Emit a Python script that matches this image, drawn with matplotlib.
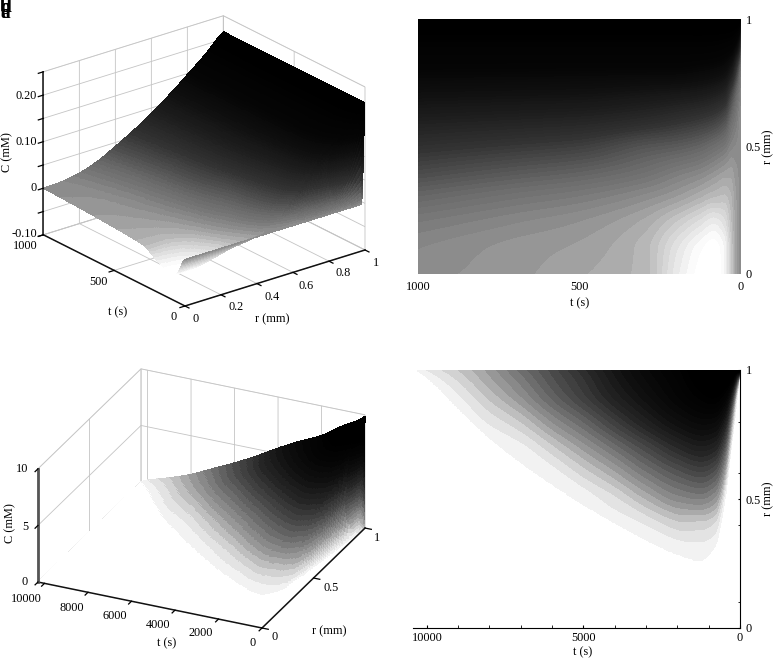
import numpy as np
import matplotlib
matplotlib.use("Agg")
import matplotlib.pyplot as plt
from matplotlib.colors import ListedColormap, BoundaryNorm
from mpl_toolkits.mplot3d import proj3d

plt.rcParams['font.family'] = ['Liberation Serif', 'DejaVu Serif']
plt.rcParams['font.size'] = 8.8
plt.rcParams['grid.color'] = '#c4c4c4'
plt.rcParams['grid.linewidth'] = 0.6

r_rows = [0, .1, .2, .3, .4, .5, .6, .7, .8, .9, .98, 1]

t_short = [0, 5, 15, 30, 50, 85, 130, 200, 300, 500, 700, 1000]
c_short = [
    [0, 0, 0, 0, 0, 0, 0, 0, 0, 0, 0, .215],
    [-.002, -.002, -.002, -.002, -.001, 0, .001, .006, .02, .09, .19, .216],
    [-.008, -.008, -.007, -.006, -.003, .001, .007, .018, .055, .14, .205, .216],
    [-.02, -.02, -.017, -.013, -.007, .003, .016, .042, .10, .165, .208, .216],
    [-.036, -.036, -.028, -.017, -.006, .010, .035, .075, .125, .172, .21, .216],
    [-.046, -.043, -.033, -.016, -.002, .017, .048, .088, .135, .178, .21, .216],
    [-.042, -.039, -.028, -.012, .003, .024, .055, .095, .14, .18, .21, .216],
    [-.032, -.029, -.02, -.006, .008, .03, .062, .1, .145, .18, .21, .216],
    [-.014, -.014, -.01, 0, .016, .035, .07, .105, .145, .18, .21, .216],
    [-.008, -.006, -.002, .008, .026, .05, .08, .112, .146, .18, .21, .216],
    [-.004, -.003, .002, .013, .032, .056, .084, .114, .147, .18, .21, .216],
    [0, .002, .0086, .022, .042, .064, .089, .117, .148, .18, .21, .216],
]

t_long = [0, 100, 250, 500, 800, 1300, 2000, 3000, 4000, 5000, 6000, 7000, 8000, 9000, 10000, 10300]
r_edge_long = [.995, .88, .73, .48, .316, .26, .284, .34, .406, .477, .555, .64, .735, .85, .97, .995]
c_long = [
    [0, 0, 0, 0, 0, 0, 0, 0, 0, 0, 0, 9.9],
    [0, 0, 0, 0, 0, 0, 0, 0, 0, .3, 6.0, 9.7],
    [0, 0, 0, 0, 0, 0, 0, 0, 1.2, 4.5, 8.6, 9.5],
    [0, 0, 0, 0, 0, .15, 1.5, 3.2, 5.2, 7.3, 8.9, 9.2],
    [0, 0, 0, 0, .5, 1.7, 3.1, 4.7, 6.3, 7.9, 8.7, 8.9],
    [0, 0, 0, .15, .75, 2.1, 3.5, 5.0, 6.4, 7.6, 8.2, 8.3],
    [0, 0, 0, .08, .75, 1.9, 3.1, 4.5, 5.9, 6.9, 7.3, 7.4],
    [0, 0, 0, 0, .3, 1.2, 2.3, 3.5, 4.9, 5.9, 6.4, 6.5],
    [0, 0, 0, 0, 0, .5, 1.4, 2.5, 3.8, 4.9, 5.4, 5.5],
    [0, 0, 0, 0, 0, .08, .7, 1.6, 2.7, 3.8, 4.25, 4.4],
    [0, 0, 0, 0, 0, 0, .15, .8, 1.8, 2.8, 3.3, 3.4],
    [0, 0, 0, 0, 0, 0, 0, .2, .9, 1.8, 2.35, 2.5],
    [0, 0, 0, 0, 0, 0, 0, 0, .35, 1.0, 1.5, 1.6],
    [0, 0, 0, 0, 0, 0, 0, 0, 0, .25, .75, .9],
    [0, 0, 0, 0, 0, 0, 0, 0, 0, 0, .1, .3],
    [0, 0, 0, 0, 0, 0, 0, 0, 0, 0, 0, .06],
]

W, H = 775, 660
fig = plt.figure(figsize=(W / 100, H / 100), dpi=100, facecolor='white')


def pchip(x, y, xq):
    """Monotone cubic drawing curve through the table nodes."""
    x, y = np.asarray(x, float), np.asarray(y, float)
    if len(x) == 2:
        return np.interp(xq, x, y)
    h = np.diff(x)
    s = np.diff(y) / h
    d = np.zeros_like(y)
    for i in range(1, len(x) - 1):
        if s[i - 1] * s[i] > 0:
            w1, w2 = 2 * h[i] + h[i - 1], h[i] + 2 * h[i - 1]
            d[i] = (w1 + w2) / (w1 / s[i - 1] + w2 / s[i])
    d[0], d[-1] = s[0], s[-1]
    i = np.clip(np.searchsorted(x, xq, side='right') - 1, 0, len(h) - 1)
    u = (xq - x[i]) / h[i]
    return (y[i] * (2 * u**3 - 3 * u**2 + 1) + d[i] * h[i] * (u**3 - 2 * u**2 + u)
            + y[i + 1] * (-2 * u**3 + 3 * u**2) + d[i + 1] * h[i] * (u**3 - u**2))


def fine_axes(tmax):
    u = np.linspace(0, 1, 230)
    tf = tmax * u**2
    rf = 1 - (1 - np.linspace(0, 1, 260))**1.6
    return tf, rf


def render_short(ts, rs, table):
    tf, rf = fine_axes(ts[-1])
    a = np.array([pchip(rs, row, rf) for row in np.array(table, float)])
    z = np.array([pchip(ts, a[:, j], tf) for j in range(a.shape[1])]).T
    return tf, rf, z


def render_long(ts, rs, edge, table):
    tf, rf = fine_axes(ts[-1])
    rs = np.array(rs)
    S = np.linspace(0, 1, 140)
    prof = []
    for e, row in zip(edge, np.array(table, float)):
        keep = rs > e
        prof.append(pchip(np.r_[e, rs[keep]], np.r_[.05, row[keep]], e + S * (1 - e)))
    prof = np.array(prof)
    zs = np.array([pchip(ts, prof[:, j], tf) for j in range(len(S))]).T
    ef = pchip(ts, edge, tf)
    z = np.array([np.interp(rf, e + S * (1 - e), col, left=0) for e, col in zip(ef, zs)])
    return tf, rf, z


def bands(levels, anchors_z, anchors_g):
    mids = 0.5 * (levels[:-1] + levels[1:])
    g = np.interp(mids, anchors_z, anchors_g)
    cmap = ListedColormap([(v, v, v) for v in g])
    return cmap, BoundaryNorm(levels, cmap.N)


def place(axes, origin_px, right_px, origin_xyz, right_xyz):
    ax = axes[0]
    side = 0.8
    ax.set_position([0.1, 0.1, side * H / W, side])
    for _ in range(3):
        ax.apply_aspect()
        M = ax.get_proj()
        def px(p):
            u, v, _w = proj3d.proj_transform(p[0], p[1], p[2], M)
            return ax.transData.transform((u, v))
        a, b = px(origin_xyz), px(right_xyz)
        scale = np.hypot(*(np.array(right_px) - np.array(origin_px))) / np.hypot(*(b - a))
        pos = ax.get_position()
        ax.set_position([pos.x0, pos.y0, pos.width * scale, pos.height * scale])
        ax.apply_aspect()
        a = px(origin_xyz)
        tx, ty = origin_px[0], H - origin_px[1]
        pos = ax.get_position()
        ax.set_position([pos.x0 + (tx - a[0]) / W, pos.y0 + (ty - a[1]) / H, pos.width, pos.height])
    axes[1].set_position(ax.get_position())


def panel3d(ts_max, zlim, ratio, elev, azim, origin_px, right_px, tf, rf, z, cmap, norm,
            rt, tt, zt, texts, z_lw, z_col):
    base = fig.add_axes([0.1, 0.1, 0.5, 0.5], projection='3d', proj_type='ortho')
    over = fig.add_axes([0.1, 0.1, 0.5, 0.5], projection='3d', proj_type='ortho')
    R, T = np.meshgrid(rf, tf)
    base.plot_surface(R, T, z, rcount=len(tf), ccount=len(rf), cmap=cmap, norm=norm,
                      linewidth=0, antialiased=False, shade=False)
    for ax in (base, over):
        ax.patch.set_visible(False)
        ax.view_init(elev=elev, azim=azim)
        ax.set_box_aspect((1, 1, ratio))
        ax.set_xlim(0, 1, view_margin=0)
        ax.set_ylim(0, ts_max, view_margin=0)
        ax.set_zlim(zlim[0], zlim[1], view_margin=0)
        ax.set_xticks(rt, [''] * len(rt))
        ax.set_yticks(tt, [''] * len(tt))
        ax.set_zticks(zt, [''] * len(zt))
    over.grid(False)
    for axis in (base.xaxis, base.yaxis, base.zaxis):
        axis.pane.set_facecolor((1, 1, 1, 0))
        axis.pane.set_edgecolor('#c4c4c4')
        axis.pane.set_linewidth(0.6)
        axis.line.set_visible(False)
        axis._axinfo['tick']['inward_factor'] = 0
        axis._axinfo['tick']['outward_factor'] = 0
    for axis in (over.xaxis, over.yaxis, over.zaxis):
        axis.pane.set_visible(False)
        axis.line.set_color('#111111')
        axis.line.set_linewidth(1.1)
        axis._axinfo['tick']['inward_factor'] = .35
        axis._axinfo['tick']['outward_factor'] = 0
        axis._axinfo['tick']['linewidth'] = {True: 0.9, False: 0.5}
    over.zaxis.line.set_color(z_col)
    over.zaxis.line.set_linewidth(z_lw)
    place((base, over), origin_px, right_px, (0, 0, zlim[0]), (1, 0, zlim[0]))
    for text, x, y, ha, rot in texts:
        over.text2D(x / W, 1 - y / H, text, transform=fig.transFigure, ha=ha, va='center', rotation=rot)
    return base, over


# ---------- top row
lev_a = np.arange(-.047, .2201, .0035)
cmap_a, norm_a = bands(lev_a,
                       [-.04, -.03, -.02, -.01, 0, .01, .02, .04, .06, .09, .12, .15, .2],
                       [1, .9, .8, .67, .55, .47, .42, .3, .2, .12, .06, .02, 0])
tf_a, rf_a, z_a = render_short(t_short, r_rows, c_short)
texts_a = [('0', 196, 319, 'center', 0), ('0.2', 236, 307, 'center', 0), ('0.4', 272, 297, 'center', 0),
           ('0.6', 306, 286, 'center', 0), ('0.8', 343, 273, 'center', 0), ('1', 376, 263, 'center', 0),
           ('0', 174, 317, 'center', 0), ('500', 98, 282, 'center', 0), ('1000', 25, 246, 'center', 0),
           ('-0.10', 37, 234, 'right', 0), ('0', 37, 188, 'right', 0), ('0.10', 37, 142, 'right', 0),
           ('0.20', 37, 96, 'right', 0),
           ('r (mm)', 272, 319, 'center', 0), ('t (s)', 118, 312, 'center', 0), ('C (mM)', 7, 152, 'center', 90)]
panel3d(1000, (-.10, .25), .775, 23.3, -128.2, (185, 306), (365, 250), tf_a, rf_a, z_a, cmap_a, norm_a,
        [0, .2, .4, .6, .8, 1], [0, 500, 1000], [-.10, -.05, 0, .05, .10, .15, .20, .25],
        texts_a, 1.1, '#111111')

ax_b = fig.add_axes([418 / W, 1 - 274 / H, 323 / W, 255 / H])
ax_b.contourf(tf_a, rf_a, z_a.T, levels=lev_a, cmap=cmap_a, norm=norm_a, extend='both')
ax_b.set_xlim(1000, 0)
ax_b.set_ylim(0, 1)
ax_b.set_xticks([1000, 500, 0], ['1000', '500', '0'])
ax_b.set_yticks([0, .5, 1], ['0', '0.5', '1'])
ax_b.yaxis.tick_right()
ax_b.yaxis.set_label_position('right')
ax_b.tick_params(axis='x', length=0, pad=5)
ax_b.tick_params(axis='y', length=0, pad=3.5)
for s in ax_b.spines.values():
    s.set_visible(False)
ax_b.set_xlabel('t (s)', labelpad=3)
ax_b.set_ylabel('r (mm)', labelpad=0.5)

# ---------- bottom row
lev_c = np.r_[-1, 0.05, np.arange(.3, 9.91, .3), 11]
cmap_c, norm_c = bands(lev_c,
                       [-.5, 0, .1, .5, .85, 1.6, 2.6, 3.5, 4.6, 5.8, 6.8, 7.9],
                       [1, 1, .965, .88, .8, .6, .42, .28, .15, .06, .02, 0])
tf_c, rf_c, z_c = render_long(t_long, r_rows, r_edge_long, c_long)
texts_c = [('0', 275, 637, 'center', 0), ('0.5', 331, 588, 'center', 0), ('1', 377, 538, 'center', 0),
           ('0', 253, 643, 'center', 0), ('2000', 201, 633, 'center', 0), ('4000', 158, 625, 'center', 0),
           ('6000', 115, 616, 'center', 0), ('8000', 72, 608, 'center', 0), ('10000', 26, 599, 'center', 0),
           ('0', 28, 582, 'right', 0), ('5', 28, 527, 'right', 0), ('10', 28, 469, 'right', 0),
           ('r (mm)', 329, 631, 'center', 0), ('t (s)', 167, 643, 'center', 0), ('C (mM)', 10, 523, 'center', 90)]
panel3d(10300, (0, 10), .513, 26.5, -155.3, (262, 628), (365, 528), tf_c, rf_c, z_c, cmap_c, norm_c,
        [0, .5, 1], [0, 2000, 4000, 6000, 8000, 10000], [0, 5, 10], texts_c, 2.0, '#555555')

ax_d = fig.add_axes([413 / W, 1 - 628 / H, 327 / W, 258 / H])
ax_d.contourf(tf_c, rf_c, z_c.T, levels=lev_c, cmap=cmap_c, norm=norm_c)
ax_d.set_xlim(10440, 0)
ax_d.set_ylim(0, 1)
ax_d.set_xticks([10000, 5000, 0], ['10000', '5000', '0'])
ax_d.set_xticks(np.arange(0, 10001, 1000), minor=True)
ax_d.set_yticks([0, .5, 1], ['0', '0.5', '1'])
ax_d.set_yticks([.1, .4, .6, .8], minor=True)
ax_d.yaxis.tick_right()
ax_d.yaxis.set_label_position('right')
ax_d.tick_params(which='both', direction='in', length=2.5, pad=3)
ax_d.tick_params(axis='y', which='both', length=1.5, pad=4)
ax_d.spines['top'].set_visible(False)
ax_d.spines['left'].set_visible(False)
ax_d.set_xlabel('t (s)')
ax_d.xaxis.set_label_coords(0.52, -0.07)
ax_d.set_ylabel('r (mm)', labelpad=1)

# ---------- overlapping panel letters (as in the reference)
for letter, y_px in zip('abcd', [13, 8, 13, 8]):
    fig.text(0 / W, 1 - y_px / H, letter, fontsize=14, fontweight='bold', va='center', ha='left')

fig.savefig('out.png', dpi=100, facecolor='white')
